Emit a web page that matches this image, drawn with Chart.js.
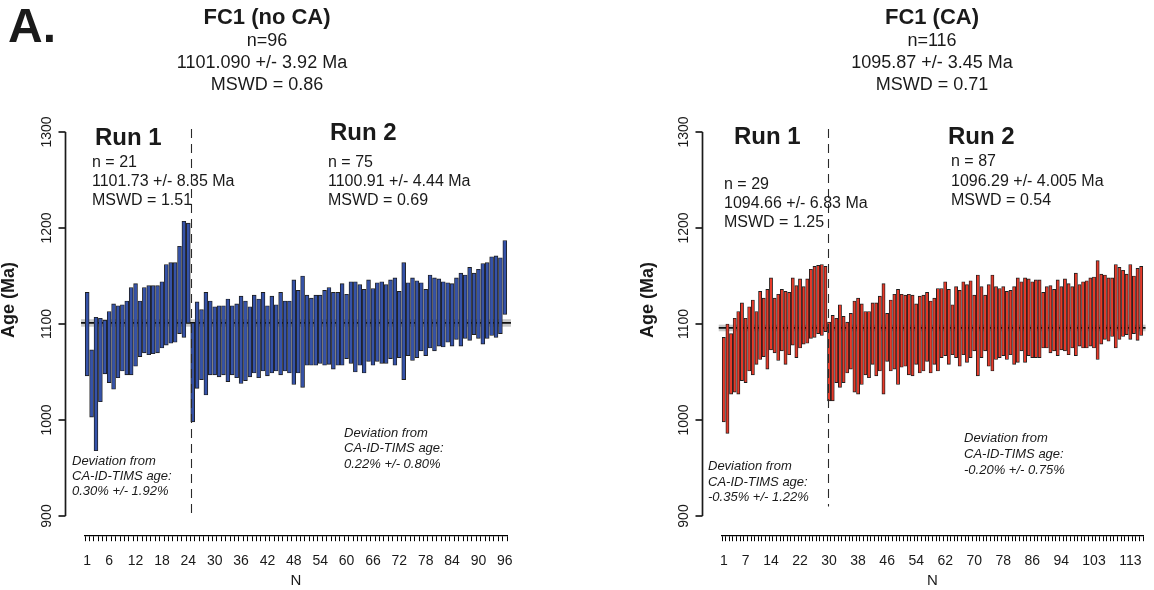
<!DOCTYPE html>
<html><head><meta charset="utf-8">
<script src="https://cdn.jsdelivr.net/npm/chart.js@4.4.1/dist/chart.umd.min.js"></script>
<style>
html,body{margin:0;padding:0;background:#fff;}
#wrap{position:relative;width:1154px;height:590px;overflow:hidden;background:#fff;}
canvas{position:absolute;top:0;}
</style></head><body>
<div id="wrap">
<canvas id="c1" width="577" height="590" style="left:0"></canvas>
<canvas id="c2" width="577" height="590" style="left:577px"></canvas>
</div>
<script>
// ---------- DATA ----------
// FC1 (no CA): upper / lower ends of each age bar (Ma), N = 1..96
const leftHigh = [1133,1073,1107,1106,1104,1113,1121,1119,1120,1124,1138,1142,1124,1138,1140,1140,1140,1144,1162,1164,1164,1181,1207,1205,
  1101,
  1123,1115,1133,1124,1118,1119,1119,1126,1119,1121,1129,1124,1118,1130,1126,1133,1119,1129,1120,1133,1124,1124,1146,1135,1150,1130,1127,1130,1130,1135,1138,1133,1133,1142,1131,1144,
  1144,1141,1136,1146,1137,1143,1144,1141,1146,1148,1134,1164,1143,1148,1145,1143,1136,1151,1148,1147,1144,1143,1142,1148,1153,1151,1159,1153,1157,1163,
  1164,1170,1171,1169,1187];
const leftLow = [1046,1003,968,1019,1048,1039,1032,1044,1051,1047,1047,1056,1066,1070,1068,1069,1070,1075,1078,1080,1081,1090,1086,1101,
  998,
  1033,1042,1026,1047,1047,1045,1047,1040,1047,1044,1038,1041,1045,1049,1044,1051,1046,1049,1051,1047,1051,1049,1037,1049,1034,1057,1057,1057,1059,1057,1058,1053,1057,1057,1064,1059,
  1050,1057,1049,1061,1057,1061,1059,1059,1064,1057,1065,1042,1067,1062,1065,1072,1067,1075,1072,1077,1076,1081,1077,1084,1077,1085,1083,1089,1085,1079,
  1085,1088,1086,1090,1110];
// FC1 (CA): N = 1..116
const rightHigh = [1086,1100,1090,1106,1113,1122,1106,1118,1125,1113,1134,1127,1136,1148,1127,1131,1136,1134,1133,1148,1140,1147,1139,1147,1157,1160,1161,1162,1160,
  1102,1109,1106,1120,1108,1102,1111,1124,1127,1121,1113,1113,1122,1122,1129,1142,1111,1125,1131,1136,1131,1130,1131,1130,1121,1129,1130,1133,1124,1127,1137,1137,1144,1136,1120,1139,1135,1144,1141,1145,1130,1151,1139,1130,
  1141,1151,1139,1137,1139,1134,1135,1139,1148,1144,1148,1147,1144,1146,1146,1133,1139,1140,1136,1146,1139,1147,1142,1139,1153,1141,1144,1145,1148,1149,1166,1152,1151,1148,1148,1162,1159,1156,1152,1162,
  1150,1158,1160];
const rightLow = [998,986,1027,1029,1027,1041,1039,1051,1047,1058,1063,1066,1053,1073,1070,1062,1072,1058,1068,1078,1065,1075,1079,1080,1085,1086,1090,1088,1092,
  1020,1020,1039,1034,1039,1049,1053,1029,1027,1037,1047,1044,1058,1046,1051,1027,1061,1051,1053,1037,1055,1056,1047,1046,1058,1049,1051,1061,1049,1058,1051,1065,1067,1058,1068,1065,1056,1068,1060,1065,1072,1046,1065,1072,
  1056,1051,1063,1065,1067,1063,1068,1058,1060,1072,1060,1067,1065,1065,1065,1075,1075,1070,1072,1067,1073,1072,1068,1075,1067,1077,1075,1075,1077,1075,1063,1079,1084,1082,1087,1075,1084,1087,1089,1084,
  1090,1083,1088];
const leftTickLabels = [1,6,12,18,24,30,36,42,48,54,60,66,72,78,84,90,96];
const rightTickLabels = [1,7,14,22,30,38,46,54,62,70,78,86,94,103,113];
const yTickValues = [900,1000,1100,1200,1300];
const leftMean = 1101.09, leftErr = 3.92;
const rightMean = 1095.87, rightErr = 3.45;
const leftRunSplit = 24.6;   // between run 1 and run 2
const rightRunSplit = 29.6;

// ---------- RENDERING ----------
const FAM = '"Liberation Sans", Arial, Helvetica, sans-serif';
const TXT = '#1a1a1a';

function overlay(spec) {
  return {
    id: 'overlay',
    beforeDatasetsDraw(chart) {
      const {ctx, scales: {x, y}} = chart;
      ctx.save();
      const x0 = x.getPixelForValue(spec.meanFrom), x1 = x.getPixelForValue(spec.meanTo);
      const yt = y.getPixelForValue(spec.mean + spec.err), yb = y.getPixelForValue(spec.mean - spec.err);
      ctx.fillStyle = '#c8c8c8';
      ctx.fillRect(x0, yt, x1 - x0, yb - yt);
      const ym = y.getPixelForValue(spec.mean);
      ctx.strokeStyle = '#111'; ctx.lineWidth = 1.8;
      ctx.beginPath(); ctx.moveTo(x0, ym); ctx.lineTo(x1, ym); ctx.stroke();
      ctx.restore();
    },
    afterDatasetsDraw(chart) {
      const {ctx, scales: {x, y}} = chart;
      ctx.save();
      const xd = Math.round(x.getPixelForValue(spec.split)) + 0.5;
      ctx.strokeStyle = '#2a2a2a'; ctx.lineWidth = 1.1; ctx.setLineDash([9, 6]);
      ctx.beginPath(); ctx.moveTo(xd, y.getPixelForValue(spec.dashTop)); ctx.lineTo(xd, y.getPixelForValue(spec.dashBottom)); ctx.stroke();
      ctx.restore();
    },
    afterDraw(chart) {
      const {ctx, scales: {x, y}} = chart;
      ctx.save();
      // y axis (R style, spans first to last tick)
      const ax = Math.round(x.getPixelForValue(spec.yAxisAt)) + 0.5;
      const yTop = y.getPixelForValue(yTickValues[yTickValues.length - 1]);
      const yBot = y.getPixelForValue(yTickValues[0]);
      ctx.strokeStyle = TXT; ctx.lineWidth = 1.7;
      ctx.beginPath(); ctx.moveTo(ax, yTop); ctx.lineTo(ax, yBot); ctx.stroke();
      ctx.fillStyle = TXT;
      ctx.font = '14px ' + FAM;
      ctx.textAlign = 'center'; ctx.textBaseline = 'middle';
      yTickValues.forEach(v => {
        const py = y.getPixelForValue(v);
        ctx.beginPath(); ctx.moveTo(ax - 7, py); ctx.lineTo(ax, py); ctx.stroke();
        ctx.save(); ctx.translate(ax - 18, py); ctx.rotate(-Math.PI / 2);
        ctx.fillText(String(v), 0, 0); ctx.restore();
      });
      // axis title
      ctx.save(); ctx.font = 'bold 18px ' + FAM;
      ctx.translate(spec.yTitle[0] - spec.off, spec.yTitle[1]); ctx.rotate(-Math.PI / 2);
      ctx.fillText('Age (Ma)', 0, 0); ctx.restore();
      // annotations
      spec.texts.forEach(t => {
        ctx.font = t.f + ' ' + FAM;
        ctx.textAlign = t.a || 'left';
        ctx.textBaseline = 'middle';
        ctx.fillStyle = t.c || TXT;
        ctx.fillText(t.s, t.x - spec.off, t.y);
      });
      ctx.restore();
    }
  };
}

function makeChart(id, high, low, tickLabels, color, pad, yAxisAt, barW, spec) {
  const n = high.length;
  const ticksAll = Array.from({length: n}, (_, i) => i + 1);
  const data = ticksAll.map((v, i) => ({x: v, y: [low[i], high[i]]}));
  return new Chart(document.getElementById(id), {
    type: 'bar',
    data: { datasets: [{ data, backgroundColor: color, borderColor: '#1e1e1e', borderWidth: 0.9,
      borderSkipped: false, barThickness: barW, clip: false }] },
    options: {
      responsive: false, animation: false, devicePixelRatio: 1,
      layout: { padding: { left: pad[0], right: pad[1], top: 132, bottom: 0 } },
      plugins: { legend: {display: false}, tooltip: {enabled: false}, title: {display: false} },
      scales: {
        x: {
          type: 'linear', min: 1, max: n, position: 'bottom',
          afterBuildTicks: s => { s.ticks = ticksAll.map(v => ({value: v})); },
          ticks: { autoSkip: false, maxRotation: 0, minRotation: 0, padding: 12, color: TXT,
            font: {family: FAM, size: 14},
            callback: v => tickLabels.includes(v) ? String(v) : '' },
          grid: { display: true, drawOnChartArea: false, drawTicks: true, tickLength: 6, color: '#000', lineWidth: 1 },
          border: { display: true, color: '#000', width: 1.3 },
          title: { display: true, text: 'N', color: TXT, font: {family: FAM, size: 15}, padding: {top: -10, bottom: 0} }
        },
        y: { type: 'linear', min: 880, max: 1300, display: false }
      }
    },
    plugins: [overlay(Object.assign({yAxisAt}, spec))]
  });
}

makeChart('c1', leftHigh, leftLow, leftTickLabels, '#3552a8', [85, 70], -4.1, 3.9, {
  off: 0, mean: leftMean, err: leftErr, meanFrom: -0.4, meanTo: 97.4,
  split: leftRunSplit, dashTop: 1303, dashBottom: 900, yTitle: [9, 300],
  texts: [
    {s: 'A.', x: 8, y: 29, f: 'bold 48px'},
    {s: 'FC1 (no CA)', x: 267, y: 18, f: 'bold 22px', a: 'center'},
    {s: 'n=96', x: 267, y: 41, f: '18px', a: 'center'},
    {s: '1101.090 +/- 3.92 Ma', x: 262, y: 63, f: '18px', a: 'center'},
    {s: 'MSWD = 0.86', x: 267, y: 85, f: '18px', a: 'center'},
    {s: 'Run 1', x: 95, y: 138, f: 'bold 24px'},
    {s: 'n = 21', x: 92, y: 163, f: '16px'},
    {s: '1101.73 +/- 8.35 Ma', x: 92, y: 182, f: '16px'},
    {s: 'MSWD = 1.51', x: 92, y: 201, f: '16px'},
    {s: 'Run 2', x: 330, y: 133, f: 'bold 24px'},
    {s: 'n = 75', x: 328, y: 163, f: '16px'},
    {s: '1100.91 +/- 4.44 Ma', x: 328, y: 182, f: '16px'},
    {s: 'MSWD = 0.69', x: 328, y: 201, f: '16px'},
    {s: 'Deviation from', x: 72, y: 461, f: 'italic 13px'},
    {s: 'CA-ID-TIMS age:', x: 72, y: 476, f: 'italic 13px'},
    {s: '0.30% +/- 1.92%', x: 72, y: 491, f: 'italic 13px'},
    {s: 'Deviation from', x: 344, y: 433, f: 'italic 13px'},
    {s: 'CA-ID-TIMS age:', x: 344, y: 448, f: 'italic 13px'},
    {s: '0.22% +/- 0.80%', x: 344, y: 464, f: 'italic 13px'}
  ]
});

makeChart('c2', rightHigh, rightLow, rightTickLabels, '#e63a2a', [145, 11], -5, 3.2, {
  off: 577, mean: rightMean, err: rightErr, meanFrom: -0.4, meanTo: 117.2,
  split: rightRunSplit, dashTop: 1303, dashBottom: 910, yTitle: [648, 300],
  texts: [
    {s: 'FC1 (CA)', x: 932, y: 18, f: 'bold 22px', a: 'center'},
    {s: 'n=116', x: 932, y: 41, f: '18px', a: 'center'},
    {s: '1095.87 +/- 3.45 Ma', x: 932, y: 63, f: '18px', a: 'center'},
    {s: 'MSWD = 0.71', x: 932, y: 85, f: '18px', a: 'center'},
    {s: 'Run 1', x: 734, y: 137, f: 'bold 24px'},
    {s: 'n = 29', x: 724, y: 185, f: '16px'},
    {s: '1094.66 +/- 6.83 Ma', x: 724, y: 204, f: '16px'},
    {s: 'MSWD = 1.25', x: 724, y: 223, f: '16px'},
    {s: 'Run 2', x: 948, y: 137, f: 'bold 24px'},
    {s: 'n = 87', x: 951, y: 162, f: '16px'},
    {s: '1096.29 +/- 4.005 Ma', x: 951, y: 182, f: '16px'},
    {s: 'MSWD = 0.54', x: 951, y: 201, f: '16px'},
    {s: 'Deviation from', x: 708, y: 466, f: 'italic 13px'},
    {s: 'CA-ID-TIMS age:', x: 708, y: 482, f: 'italic 13px'},
    {s: '-0.35% +/- 1.22%', x: 708, y: 497, f: 'italic 13px'},
    {s: 'Deviation from', x: 964, y: 438, f: 'italic 13px'},
    {s: 'CA-ID-TIMS age:', x: 964, y: 454, f: 'italic 13px'},
    {s: '-0.20% +/- 0.75%', x: 964, y: 470, f: 'italic 13px'}
  ]
});
</script>
</body></html>
